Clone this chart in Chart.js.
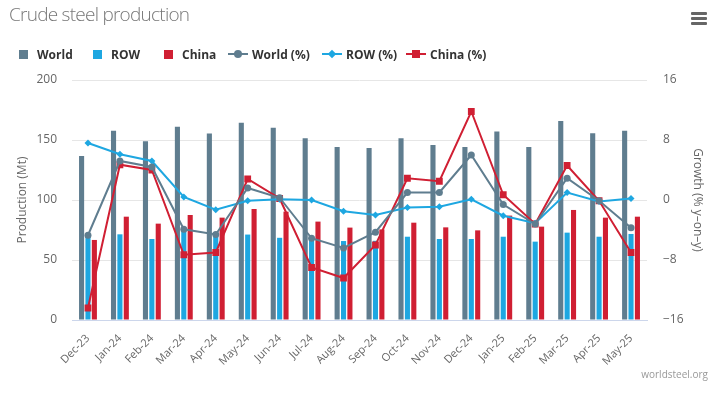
<!DOCTYPE html>
<html>
<head>
<meta charset="utf-8">
<script src="https://cdn.jsdelivr.net/npm/chart.js@4/dist/chart.umd.min.js"></script>
<style>
  html, body { margin: 0; padding: 0; background: #fff; }
  #wrap { position: relative; width: 720px; height: 393px; overflow: hidden; font-family: "Open Sans", sans-serif; }
  #chart { position: absolute; left: 0; top: 0; }
  #title { position: absolute; left: 9px; top: 1px; font-size: 19px; letter-spacing: -0.75px; font-weight: 300; color: #777; white-space: nowrap; }
  #menu { position: absolute; left: 691px; top: 12px; width: 16px; }
  #menu div { height: 3px; background: #666; margin-bottom: 2px; border-radius: 1px; }
  #legend { position: absolute; left: 0; top: 44px; height: 20px; width: 720px; }
  .item { position: absolute; top: 0; height: 20px; display: flex; align-items: center; font-size: 12px; font-weight: 700; color: #333; white-space: nowrap; }
  .sq { width: 9px; height: 9px; margin-right: 9px; }
  .ln { position: relative; width: 20px; height: 10px; margin-right: 4px; }
  .ln .bar { position: absolute; left: 0; top: 4px; width: 20px; height: 2px; }
  .ln .mk { position: absolute; }
  #credit { position: absolute; right: 12px; top: 367px; font-size: 10px; color: #999; }
</style>
</head>
<body>
<div id="wrap">
  <canvas id="chart" width="720" height="393"></canvas>
  <div id="title">Crude steel production</div>
  <div id="menu"><div></div><div></div><div></div></div>
  <div id="legend"></div>
  <div id="credit">worldsteel.org</div>
</div>
<script>
"use strict";

/* ── Data ─────────────────────────────────────────────────────────────── */
const months = ["Dec-23", "Jan-24", "Feb-24", "Mar-24", "Apr-24", "May-24",
                "Jun-24", "Jul-24", "Aug-24", "Sep-24", "Oct-24", "Nov-24",
                "Dec-24", "Jan-25", "Feb-25", "Mar-25", "Apr-25", "May-25"];

// production, Mt
const worldMt = [136.7, 157.8, 149.0, 161.0, 155.5, 164.4, 160.3, 151.4, 144.2,
                 143.3, 151.4, 145.8, 144.2, 157.0, 144.2, 165.8, 155.6, 157.8];
const rowMt   = [69.0, 71.4, 67.5, 74.5, 70.8, 71.2, 68.5, 67.0, 65.8,
                 66.0, 69.4, 67.5, 67.5, 69.4, 65.3, 72.8, 69.4, 71.7];
const chinaMt = [66.7, 86.1, 80.3, 87.5, 85.3, 92.5, 90.3, 82.0, 77.0,
                 75.5, 81.1, 77.2, 74.7, 87.0, 77.8, 91.7, 85.3, 86.1];

// growth, % y-on-y
const worldPct = [-4.7, 5.2, 4.4, -3.9, -4.6, 1.6, 0.3, -5.1, -6.4,
                  -4.3, 1.0, 1.0, 6.0, -0.6, -3.2, 2.9, -0.1, -3.7];
const rowPct   = [7.6, 6.1, 5.2, 0.4, -1.3, -0.1, 0.1, 0.0, -1.5,
                  -2.0, -1.0, -0.9, 0.1, -2.1, -3.1, 1.0, -0.2, 0.2];
const chinaPct = [-14.4, 4.7, 4.0, -7.3, -7.0, 2.8, 0.2, -9.0, -10.4,
                  -6.0, 2.9, 2.5, 11.8, 0.7, -3.2, 4.6, -0.1, -7.0];

const leftTicks  = [0, 50, 100, 150, 200];
const rightTicks = [-16, -8, 0, 8, 16];

/* ── Style ────────────────────────────────────────────────────────────── */
const C_WORLD = "#5f7d8f";
const C_ROW   = "#1ea7e1";
const C_CHINA = "#d01f33";
const FONT    = "'Open Sans', sans-serif";
const TXT     = "#666666";

function bar(label, data, color) {
  return { type: "bar", label, data, yAxisID: "y", order: 2,
           backgroundColor: color, borderWidth: 0,
           categoryPercentage: 0.6, barPercentage: 0.8 };
}
function line(label, data, color, style, radius) {
  return { type: "line", label, data, yAxisID: "y1", order: 1,
           borderColor: color, backgroundColor: color, borderWidth: 2,
           pointStyle: style, pointRadius: radius, pointBorderWidth: 0,
           tension: 0, fill: false };
}

const datasets = [
  bar("World", worldMt, C_WORLD),
  bar("ROW", rowMt, C_ROW),
  bar("China", chinaMt, C_CHINA),
  line("World (%)", worldPct, C_WORLD, "circle", 3.5),
  line("ROW (%)", rowPct, C_ROW, "rectRot", 3.5),
  line("China (%)", chinaPct, C_CHINA, "rect", 4.8),
];

new Chart(document.getElementById("chart"), {
  data: { labels: months, datasets },
  options: {
    responsive: false, animation: false,
    layout: { padding: { top: 80, left: 0, right: 0, bottom: 0 } },
    plugins: { legend: { display: false }, tooltip: { enabled: false } },
    scales: {
      x: {
        afterFit: (s) => { s.height = 73; },
        grid: { display: false },
        border: { color: "#ccd6eb", width: 1 },
        ticks: { color: TXT, font: { family: FONT, size: 11 },
                 minRotation: 45, maxRotation: 45, autoSkip: false, padding: 4 },
      },
      y: {
        position: "left", min: 0, max: 200,
        afterFit: (s) => { s.width = 72; },
        afterBuildTicks: (s) => { s.ticks = leftTicks.map(v => ({ value: v })); },
        grid: { color: "#e6e6e6", drawTicks: false },
        border: { display: false },
        ticks: { color: TXT, font: { family: FONT, size: 12 }, padding: 15 },
        title: { display: true, text: "Production (Mt)", color: TXT,
                 font: { family: FONT, size: 12 }, padding: { top: 15 } },
      },
      y1: {
        position: "right", min: -16, max: 16,
        afterFit: (s) => { s.width = 73; },
        afterBuildTicks: (s) => { s.ticks = rightTicks.map(v => ({ value: v })); },
        grid: { display: false, drawTicks: false },
        border: { display: false },
        ticks: { color: TXT, font: { family: FONT, size: 12 }, padding: 16,
                 callback: (v) => String(v).replace("-", "\u2212") },
        title: { display: true, text: "Growth (% y\u2013on\u2013y)", color: TXT,
                 font: { family: FONT, size: 12 }, padding: { top: 15 } },
      },
    },
  },
});

/* ── HTML legend built from the datasets ─────────────────────────────── */
const LEGEND_X = [19, 93, 164, 228, 322, 406];
const legend = document.getElementById("legend");
datasets.forEach((ds, i) => {
  const item = document.createElement("div");
  item.className = "item";
  item.style.left = LEGEND_X[i] + "px";
  const sym = document.createElement("span");
  if (ds.type === "bar") {
    sym.className = "sq";
    sym.style.background = ds.backgroundColor;
  } else {
    sym.className = "ln";
    const b = document.createElement("span");
    b.className = "bar"; b.style.background = ds.borderColor;
    const m = document.createElement("span");
    m.className = "mk"; m.style.background = ds.borderColor;
    if (ds.pointStyle === "circle") {
      Object.assign(m.style, { left: "6px", top: "1px", width: "8px", height: "8px", borderRadius: "50%" });
    } else if (ds.pointStyle === "rectRot") {
      Object.assign(m.style, { left: "7px", top: "2px", width: "6px", height: "6px", transform: "rotate(45deg)" });
    } else {
      Object.assign(m.style, { left: "6px", top: "1px", width: "8px", height: "8px" });
    }
    sym.appendChild(b); sym.appendChild(m);
  }
  const t = document.createElement("span");
  t.textContent = ds.label;
  item.appendChild(sym); item.appendChild(t);
  legend.appendChild(item);
});
</script>
</body>
</html>
